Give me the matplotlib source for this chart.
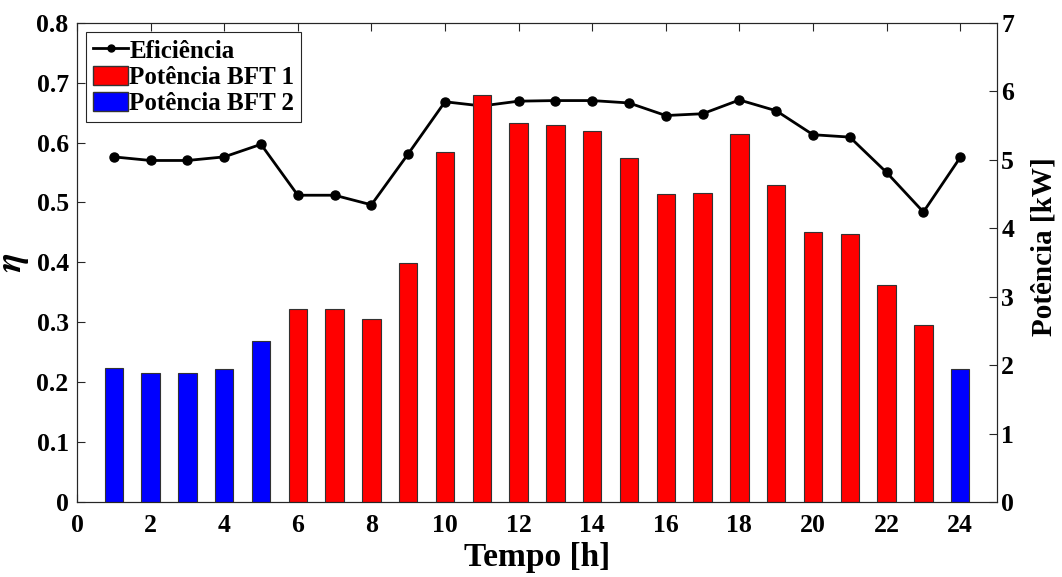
import matplotlib
matplotlib.use("Agg")
import matplotlib.pyplot as plt
import numpy as np
from matplotlib.patches import Patch
from matplotlib.lines import Line2D

hours = list(range(1, 25))
eficiencia = [0.576, 0.570, 0.570, 0.576, 0.597, 0.512, 0.512, 0.496, 0.581, 0.668,
              0.661, 0.669, 0.670, 0.670, 0.666, 0.645, 0.648, 0.671, 0.653, 0.613,
              0.609, 0.550, 0.484, 0.575]
potencia = [1.96, 1.88, 1.88, 1.94, 2.35, 2.82, 2.82, 2.67, 3.49, 5.11,
            5.94, 5.54, 5.50, 5.42, 5.03, 4.50, 4.51, 5.38, 4.63, 3.95,
            3.91, 3.17, 2.58, 1.94]
bft = [2, 2, 2, 2, 2, 1, 1, 1, 1, 1, 1, 1, 1, 1, 1, 1, 1, 1, 1, 1, 1, 1, 1, 2]
x_ticks = list(range(0, 25, 2))
eta_ticks = [0, 0.1, 0.2, 0.3, 0.4, 0.5, 0.6, 0.7, 0.8]
kw_ticks = list(range(0, 8))

plt.rcParams['font.family'] = ['Liberation Serif', 'DejaVu Serif']
plt.rcParams['font.weight'] = 'bold'
plt.rcParams['mathtext.fontset'] = 'stix'

fig = plt.figure(figsize=(10.62, 5.77), dpi=100)
ax = fig.add_axes([0.0725, 0.130, 0.8663, 0.8307])
ax2 = ax.twinx()

spine_c = '#262626'
ax.plot(hours, eficiencia, color='black', lw=2, marker='o', ms=6.5, zorder=2)

h1 = [h for h, b in zip(hours, bft) if b == 1]
p1 = [p for p, b in zip(potencia, bft) if b == 1]
h2 = [h for h, b in zip(hours, bft) if b == 2]
p2 = [p for p, b in zip(potencia, bft) if b == 2]
ax2.bar(h1, p1, width=0.5, color='#ff0000', edgecolor='#333333', linewidth=0.8)
ax2.bar(h2, p2, width=0.5, color='#0000ff', edgecolor='#333333', linewidth=0.8)

ax.set_xlim(0, 25)
ax.set_ylim(0, 0.8)
ax2.set_ylim(0, 7)
ax.set_xticks(x_ticks)
ax.set_yticks(eta_ticks)
ax.set_yticklabels(['0' if v == 0 else f'{v:.1f}' for v in eta_ticks])
ax2.set_yticks(kw_ticks)

ax.tick_params(axis='x', direction='in', top=True, length=6, width=0.8, color=spine_c,
               labelsize=18.5, pad=9)
ax.tick_params(axis='y', direction='in', length=6, width=0.8, color=spine_c,
               labelsize=18.5, pad=6)
ax2.tick_params(axis='y', direction='in', length=6, width=0.8, color=spine_c,
                labelsize=18.5, pad=3)
for a in (ax, ax2):
    for s in a.spines.values():
        s.set_color(spine_c)
        s.set_linewidth(0.8)

ax.set_xlabel('Tempo [h]', fontsize=24, fontweight='bold', labelpad=3)
ax.set_ylabel(r'$\eta$', fontsize=26, labelpad=4)
ax2.set_ylabel('Potência [kW]', fontsize=21, fontweight='bold')
ax2.yaxis.set_label_coords(1.036, 0.532)

handles = [Line2D([0], [0], color='black', lw=2, marker='o', ms=5),
           Patch(facecolor='#ff0000', edgecolor='#333333'),
           Patch(facecolor='#0000ff', edgecolor='#333333')]
labels = ['Eficiência', 'Potência BFT 1', 'Potência BFT 2']
leg = ax2.legend(handles, labels, loc='upper left', bbox_to_anchor=(0.01, 0.98),
                 fancybox=False, framealpha=1, edgecolor=spine_c, fontsize=18,
                 handlelength=1.4, handleheight=0.8, handletextpad=0.05,
                 labelspacing=0.12, borderpad=0.28, borderaxespad=0)
leg.get_frame().set_linewidth(0.8)

fig.savefig('out.png', dpi=100)
